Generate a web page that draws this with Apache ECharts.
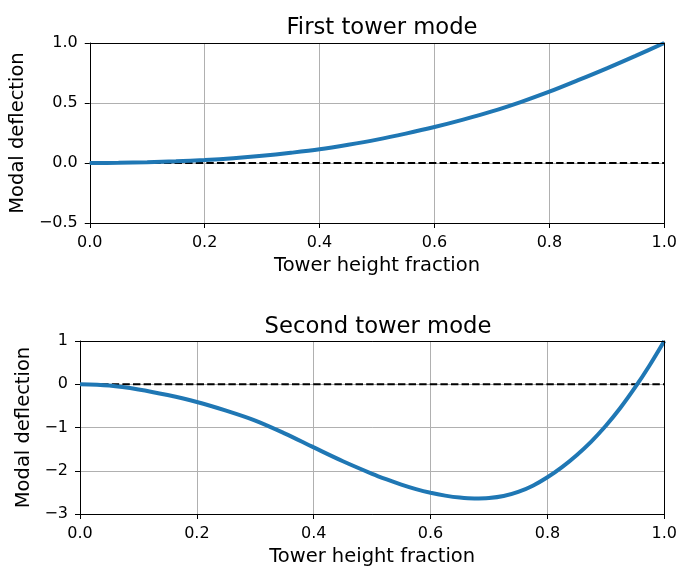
<!DOCTYPE html>
<html>
<head>
<meta charset="utf-8">
<script src="https://cdn.jsdelivr.net/npm/echarts@6/dist/echarts.min.js"></script>
<style>
  html, body { margin: 0; padding: 0; background: #fff; }
  #chart { width: 680px; height: 568px; }
</style>
</head>
<body>
<div id="chart"></div>
<script>
// first mode: height fraction and modal deflection
const heightFrac1 = [0, 0.05, 0.1, 0.15, 0.2, 0.25, 0.3, 0.35, 0.4, 0.45, 0.5,
  0.55, 0.6, 0.65, 0.7, 0.75, 0.8, 0.85, 0.9, 0.95, 1.0];
const firstMode = [0, 0.0015, 0.006, 0.014, 0.025, 0.04, 0.06, 0.085, 0.114, 0.152, 0.195,
  0.245, 0.30, 0.362, 0.43, 0.508, 0.594, 0.69, 0.789, 0.893, 1.0];
// second mode: denser sampling where it bends sharply
const heightFrac2 = [0, 0.05, 0.1, 0.15, 0.2, 0.25, 0.3, 0.35, 0.4, 0.45, 0.5,
  0.525, 0.55, 0.575, 0.6, 0.625, 0.65, 0.675, 0.7, 0.725, 0.75, 0.775, 0.8,
  0.825, 0.85, 0.875, 0.9, 0.925, 0.95, 0.975, 1.0];
const secondMode = [0, -0.03, -0.12, -0.25, -0.41, -0.61, -0.84, -1.135, -1.46, -1.78, -2.07,
  -2.20, -2.32, -2.425, -2.51, -2.575, -2.62, -2.64, -2.63, -2.585, -2.49, -2.345, -2.15,
  -1.915, -1.64, -1.325, -0.96, -0.545, -0.075, 0.44, 1.0];
const zeroLineX = [0, 1];
const zeroLineY = [0, 0];

const titles = ['First tower mode', 'Second tower mode'];
const xLabel = 'Tower height fraction';
const yLabel = 'Modal deflection';

const FONT = 'DejaVu Sans';
const minus = (s) => s.replace('-', '\u2212');
const frame = { show: true, onZero: false, lineStyle: { color: '#000', width: 1 } };

function xAxisOpt(gridIndex) {
  return {
    type: 'value', gridIndex, min: 0, max: 1, interval: 0.2,
    name: xLabel, nameLocation: 'middle', nameGap: 33,
    nameTextStyle: { fontFamily: FONT, fontSize: 19.5, color: '#000' },
    axisLine: frame,
    axisTick: { show: true, inside: false, length: 5, lineStyle: { color: '#000' } },
    axisLabel: { fontFamily: FONT, fontSize: 16, color: '#000', margin: 12,
      showMinLabel: true, showMaxLabel: true, formatter: (v) => v.toFixed(1) },
    splitLine: { show: true, lineStyle: { color: '#b0b0b0', width: 1 } },
  };
}

function yAxisOpt(gridIndex, min, max, interval, gap, digits) {
  return {
    type: 'value', gridIndex, min, max, interval,
    name: yLabel, nameLocation: 'middle', nameGap: gap,
    nameTextStyle: { fontFamily: FONT, fontSize: 19.5, color: '#000' },
    axisLine: frame,
    axisTick: { show: true, inside: false, length: 5, lineStyle: { color: '#000' } },
    axisLabel: { fontFamily: FONT, fontSize: 16, color: '#000', margin: 12,
      showMinLabel: true, showMaxLabel: true, formatter: (v) => minus(v.toFixed(digits)) },
    splitLine: { show: true, lineStyle: { color: '#b0b0b0', width: 1 } },
  };
}

// plain axes on the opposite sides, only to close the frame above the grid lines
function edgeX(gridIndex) {
  return { type: 'value', gridIndex, position: 'top', min: 0, max: 1, z: 5,
    axisLine: frame, axisTick: { show: false }, axisLabel: { show: false }, splitLine: { show: false } };
}
function edgeY(gridIndex, min, max) {
  return { type: 'value', gridIndex, position: 'right', min, max, z: 5,
    axisLine: frame, axisTick: { show: false }, axisLabel: { show: false }, splitLine: { show: false } };
}

const chart = echarts.init(document.getElementById('chart'), null, { renderer: 'canvas' });

const pairs = (xs, ys) => xs.map((x, i) => [x, ys[i]]);

chart.setOption({
  animation: false,
  backgroundColor: '#fff',
  title: [
    { text: titles[0], left: 377, top: 12, textAlign: 'center',
      textStyle: { fontFamily: FONT, fontSize: 22.7, fontWeight: 'normal', color: '#000' } },
    { text: titles[1], left: 373, top: 311, textAlign: 'center',
      textStyle: { fontFamily: FONT, fontSize: 22.7, fontWeight: 'normal', color: '#000' } },
  ],
  grid: [
    { left: 89, top: 43, width: 577, height: 180 },
    { left: 80, top: 341, width: 586, height: 176 },
  ],
  xAxis: [xAxisOpt(0), xAxisOpt(1), edgeX(0), edgeX(1)],
  yAxis: [yAxisOpt(0, -0.5, 1, 0.5, 58, 1), yAxisOpt(1, -3, 1, 1, 41, 0), edgeY(0, -0.5, 1), edgeY(1, -3, 1)],
  series: [
    { type: 'line', xAxisIndex: 0, yAxisIndex: 0, data: pairs(zeroLineX, zeroLineY),
      showSymbol: false, z: 2, lineStyle: { color: '#000', width: 2, type: [7.4, 3.2] } },
    { type: 'line', xAxisIndex: 0, yAxisIndex: 0, data: pairs(heightFrac1, firstMode),
      showSymbol: false, smooth: 0.33, z: 3, lineStyle: { color: '#1f77b4', width: 4 } },
    { type: 'line', xAxisIndex: 1, yAxisIndex: 1, data: pairs(zeroLineX, zeroLineY),
      showSymbol: false, z: 2, lineStyle: { color: '#000', width: 2, type: [7.4, 3.2] } },
    { type: 'line', xAxisIndex: 1, yAxisIndex: 1, data: pairs(heightFrac2, secondMode),
      showSymbol: false, smooth: 0.33, z: 3, lineStyle: { color: '#1f77b4', width: 4 } },
  ],
});
</script>
</body>
</html>
